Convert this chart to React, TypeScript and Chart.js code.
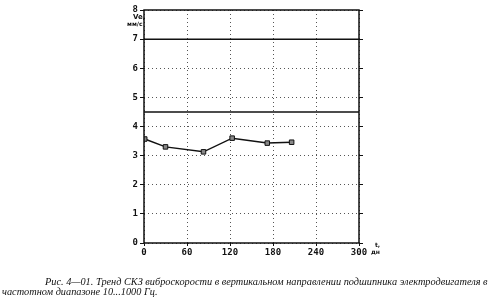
import React, { useEffect, useRef } from "react";
import { Chart, registerables } from "chart.js";
Chart.register(...registerables);

const days = [1, 30, 83, 123, 172, 206];
const velocity = [3.57, 3.3, 3.13, 3.6, 3.43, 3.46];
const alarmLevel = 7.0;
const warningLevel = 4.5;
const xMin = 0;
const xMax = 300;
const yMin = 0;
const yMax = 8;
const xTickValues = [0, 60, 120, 180, 240, 300];
const yTickValues = [0, 1, 2, 3, 4, 5, 6, 7, 8];
const captionLine1 = "Рис. 4—01. Тренд СКЗ виброскорости в вертикальном направлении подшипника электродвигателя в";
const captionLine2 = "частотном диапазоне 10...1000 Гц.";

const frame = {
  id: "frame",
  afterDatasetsDraw(chart: any) {
    const { ctx, chartArea: a } = chart;
    ctx.save();
    ctx.strokeStyle = "#111";
    ctx.lineWidth = 1.5;
    ctx.strokeRect(a.left, a.top, a.right - a.left, a.bottom - a.top);
    ctx.restore();
  },
};

export default function App() {
  const ref = useRef<HTMLCanvasElement>(null);
  useEffect(() => {
    const font = { family: "DejaVu Sans Mono", size: 9, weight: "bold" as const };
    const chart = new Chart(ref.current!, {
      type: "scatter",
      data: {
        datasets: [
          {
            data: days.map((d, i) => ({ x: d, y: velocity[i] })),
            showLine: true,
            borderColor: "#111",
            borderWidth: 1.5,
            pointStyle: "rect",
            pointRadius: 3.2,
            pointBackgroundColor: "#888",
            pointBorderColor: "#111",
            pointBorderWidth: 1,
          },
          {
            data: [{ x: xMin, y: alarmLevel }, { x: xMax, y: alarmLevel }],
            showLine: true,
            borderColor: "#111",
            borderWidth: 1.5,
            pointRadius: 0,
          },
          {
            data: [{ x: xMin, y: warningLevel }, { x: xMax, y: warningLevel }],
            showLine: true,
            borderColor: "#111",
            borderWidth: 1.5,
            pointRadius: 0,
          },
        ],
      },
      options: {
        animation: false,
        responsive: false,
        layout: { padding: { left: 124, right: 127, top: 10, bottom: 47 } },
        plugins: { legend: { display: false }, tooltip: { enabled: false } },
        scales: {
          x: {
            type: "linear",
            min: xMin,
            max: xMax,
            afterBuildTicks: (s: any) => { s.ticks = xTickValues.map((v) => ({ value: v })); },
            afterFit: (s: any) => { s.height = 14; },
            ticks: { font, color: "#111", padding: 1, maxRotation: 0 },
            grid: { color: "#555", lineWidth: 1, tickLength: 3, tickColor: "#111", tickBorderDash: [] },
            border: { display: false, dash: [1, 3] },
          },
          y: {
            min: yMin,
            max: yMax,
            afterBuildTicks: (s: any) => { s.ticks = yTickValues.map((v) => ({ value: v })); },
            afterFit: (s: any) => { s.width = 20; },
            ticks: { font, color: "#111", padding: 2 },
            grid: { color: "#555", lineWidth: 1, tickLength: 4, tickColor: "#111", tickBorderDash: [] },
            border: { display: false, dash: [1, 3] },
          },
          y2: {
            position: "right",
            min: yMin,
            max: yMax,
            afterBuildTicks: (s: any) => { s.ticks = yTickValues.map((v) => ({ value: v })); },
            afterFit: (s: any) => { s.width = 4; },
            ticks: { display: false },
            grid: { drawOnChartArea: false, tickLength: 4, tickColor: "#111" },
            border: { display: false },
          },
        },
      },
      plugins: [frame],
    });
    return () => chart.destroy();
  }, []);
  const cap: React.CSSProperties = {
    position: "absolute",
    fontFamily: "Liberation Serif",
    fontStyle: "italic",
    fontSize: 10.3,
    whiteSpace: "nowrap",
    color: "#111",
    lineHeight: "10px",
  };
  const small: React.CSSProperties = {
    position: "absolute",
    fontFamily: "DejaVu Sans",
    fontWeight: "bold",
    fontSize: 6,
    color: "#111",
    lineHeight: "6px",
    whiteSpace: "nowrap",
  };
  return (
    <div style={{ position: "fixed", left: 0, top: 0, width: 490, height: 304, background: "#fff" }}>
      <canvas ref={ref} width={490} height={304} style={{ position: "absolute", left: 0, top: 0 }} />
      <div style={{ ...small, left: 133, top: 14, fontSize: 7 }}>Ve,</div>
      <div style={{ ...small, left: 127, top: 21 }}>мм/с</div>
      <div style={{ ...small, left: 375, top: 242 }}>t,</div>
      <div style={{ ...small, left: 371, top: 249 }}>дн</div>
      <div style={{ ...cap, left: 45, top: 277 }}>{captionLine1}</div>
      <div style={{ ...cap, left: 2, top: 287 }}>{captionLine2}</div>
    </div>
  );
}
